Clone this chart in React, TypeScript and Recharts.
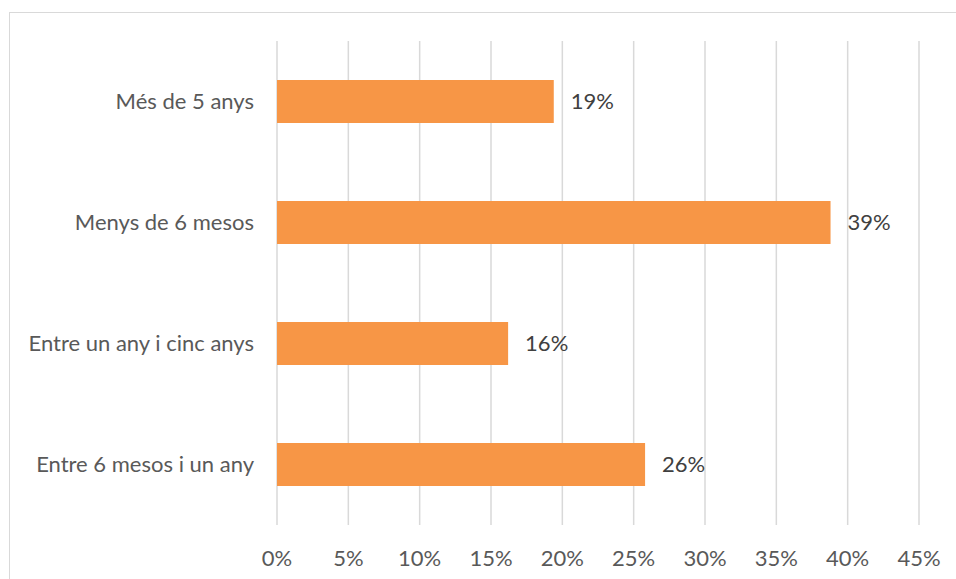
import { BarChart, Bar, XAxis, YAxis, CartesianGrid, LabelList } from "recharts";

const categories = ["Més de 5 anys", "Menys de 6 mesos", "Entre un any i cinc anys", "Entre 6 mesos i un any"];
const shares = [19.4, 38.8, 16.2, 25.8];
const xTicks = [0, 5, 10, 15, 20, 25, 30, 35, 40, 45];

const data = categories.map((name, i) => ({ name, value: shares[i] }));

const font = "Lato, 'Open Sans', sans-serif";

export default function App() {
  return (
    <div style={{ position: "absolute", left: 0, top: 0, width: 956, height: 579, overflow: "hidden", background: "#fff" }}>
      <div
        style={{
          position: "absolute",
          left: 9,
          top: 12,
          width: 980,
          height: 600,
          border: "1px solid #d9d9d9",
        }}
      />
      <div style={{ position: "absolute", left: 0, top: 0 }}>
        <BarChart
          width={956}
          height={579}
          data={data}
          layout="vertical"
          margin={{ top: 41, right: 37, bottom: 0, left: 0 }}
          style={{ fontFamily: font }}
        >
          <CartesianGrid horizontal={false} stroke="#d9d9d9" strokeWidth={1.5} />
          <XAxis
            type="number"
            domain={[0, 45]}
            ticks={xTicks}
            interval={0}
            tickFormatter={(v: number) => `${v}%`}
            axisLine={false}
            tickLine={false}
            tickSize={0}
            tickMargin={25}
            height={54}
            tick={{ fill: "#595959", fontSize: 22 }}
          />
          <YAxis
            type="category"
            dataKey="name"
            width={277}
            axisLine={false}
            tickLine={false}
            tickSize={0}
            tickMargin={23}
            tick={{ fill: "#595959", fontSize: 22 }}
          />
          <Bar dataKey="value" fill="#f79646" barSize={43} isAnimationActive={false}>
            <LabelList
              dataKey="value"
              position="right"
              offset={17}
              formatter={(v: number) => `${Math.round(v)}%`}
              style={{ fill: "#404040", fontSize: 22, fontFamily: font }}
            />
          </Bar>
        </BarChart>
      </div>
    </div>
  );
}
